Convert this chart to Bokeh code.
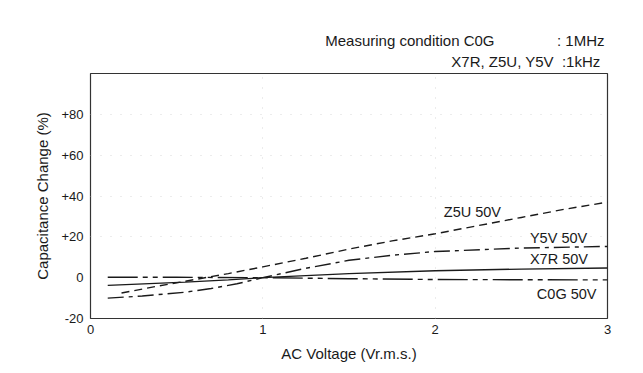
from bokeh.plotting import figure
from bokeh.models import Label, FixedTicker, Title
from bokeh.embed import file_html
from bokeh.resources import INLINE

# ---- data ----
z5u_x = [0.18, 0.4, 0.6, 0.8, 1.0, 1.25, 1.5, 1.75, 2.0, 2.25, 2.5, 2.75, 3.0]
z5u_y = [-7.5, -4.0, -1.0, 2.0, 5.3, 9.5, 14.0, 18.0, 21.5, 25.5, 29.5, 33.5, 37.0]

y5v_x = [0.1, 0.3, 0.55, 0.7, 0.85, 1.0, 1.25, 1.5, 1.75, 2.0, 2.5, 3.0]
y5v_y = [-10.0, -9.0, -7.1, -5.3, -3.0, 0.0, 4.6, 8.5, 11.0, 12.8, 14.5, 15.3]

x7r_x = [0.1, 0.55, 0.8, 1.0, 1.5, 2.0, 2.5, 3.0]
x7r_y = [-3.8, -2.2, -1.1, 0.0, 2.0, 3.4, 4.2, 4.7]

c0g_x = [0.1, 0.5, 1.0, 1.5, 2.0, 2.5, 3.0]
c0g_y = [0.2, 0.2, 0.0, -0.5, -0.9, -1.0, -1.1]

x_ticks = [0, 1, 2, 3]
y_ticks = [-20, 0, 20, 40, 60, 80]
y_tick_labels = ["-20", "0", "+20", "+40", "+60", "+80"]

header_1 = ("Measuring condition C0G", ": 1MHz")
header_2 = ("X7R, Z5U, Y5V", ":1kHz")

FONT = "Liberation Sans"
INK = "#1a1a1a"
NB = "\u00a0"

p = figure(width=643, height=373, output_backend="svg", toolbar_location=None,
           x_range=(0, 3), y_range=(-20, 100), title=None,
           min_border_left=90, min_border_right=36, min_border_top=73, min_border_bottom=55)

p.background_fill_color = "white"
p.border_fill_color = "white"
p.outline_line_color = "#333333"
p.outline_line_width = 1.2

p.xgrid.ticker = FixedTicker(ticks=[1, 2])
p.ygrid.ticker = FixedTicker(ticks=[20, 40, 60, 80])
for g in (p.xgrid, p.ygrid):
    g.grid_line_color = "#d8d8d8"
    g.grid_line_dash = "1 9"
    g.grid_line_width = 1

for ax in (p.xaxis, p.yaxis):
    ax.axis_line_color = None
    ax.major_tick_line_color = None
    ax.minor_tick_line_color = None
    ax.major_tick_out = 0
    ax.major_tick_in = 0
    ax.minor_tick_out = 0
    ax.minor_tick_in = 0
    ax.major_label_text_font = FONT
    ax.major_label_text_font_size = "13px"
    ax.major_label_text_color = INK
    ax.axis_label_text_font = FONT
    ax.axis_label_text_font_size = "15px"
    ax.axis_label_text_font_style = "normal"
    ax.axis_label_text_color = INK

p.xaxis.ticker = FixedTicker(ticks=x_ticks)
p.yaxis.ticker = FixedTicker(ticks=y_ticks)
p.yaxis.major_label_overrides = {t: s for t, s in zip(y_ticks, y_tick_labels)}
p.xaxis.major_label_standoff = 6
p.yaxis.major_label_standoff = 7
p.xaxis.axis_label = "AC Voltage (Vr.m.s.)"
p.yaxis.axis_label = "Capacitance Change (%)"
p.xaxis.axis_label_standoff = 8
p.yaxis.axis_label_standoff = 7

# ---- curves ----
p.line(z5u_x, z5u_y, line_color=INK, line_width=1.4, line_dash="8 5")
p.line(y5v_x, y5v_y, line_color=INK, line_width=1.4, line_dash="16 5 4 5")
p.line(x7r_x, x7r_y, line_color=INK, line_width=1.4)
p.line(c0g_x, c0g_y, line_color=INK, line_width=1.4, line_dash="30 5 5 5 5 5")

def lab(x, y, text, align="left", size="14.5px"):
    p.add_layout(Label(x=x, y=y, text=text, text_font=FONT, text_font_size=size,
                       text_color=INK, text_align=align, text_baseline="middle"))

lab(2.05, 32.1, "Z5U 50V")
lab(2.55, 19.3, "Y5V 50V")
lab(2.55, 9.0, "X7R 50V")
lab(2.59, -7.9, "C0G 50V")

# ---- header (two lines above the frame) ----
t2 = Title(text=header_2[0] + NB * 2 + header_2[1], align="right", offset=7,
           text_font=FONT, text_font_size="15px", text_font_style="normal",
           text_color=INK, standoff=7)
t1 = Title(text=header_1[0] + NB * 15 + header_1[1], align="right", offset=3,
           text_font=FONT, text_font_size="15px", text_font_style="normal",
           text_color=INK, standoff=-2)
p.add_layout(t2, "above")
p.add_layout(t1, "above")

open("out.html", "w").write(file_html(p, INLINE))
